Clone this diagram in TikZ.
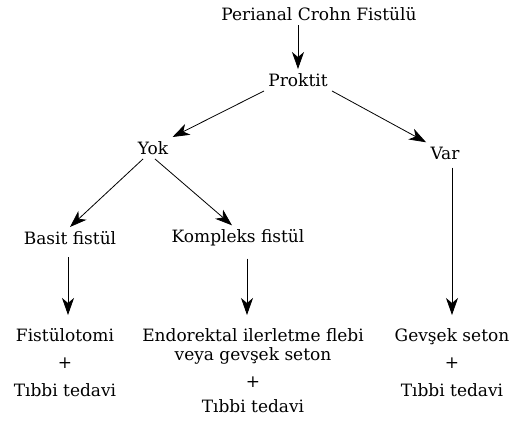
\documentclass[tikz,border=0pt]{standalone}
\usepackage{fontspec}
\setmainfont{DejaVu Serif}
\usetikzlibrary{arrows.meta}

\begin{document}
\begin{tikzpicture}[x=1pt,y=-1pt,
  every node/.style={inner sep=4pt,font=\fontsize{17}{27.5}\selectfont},
  result/.style={anchor=north,inner sep=0pt,align=center},
  every path/.style={line width=0.8pt},
  >={Stealth[length=17pt,width=12pt,inset=5pt]}]
\useasboundingbox (0,0) rectangle (522,423);
\node (title) at (319,14) {Perianal Crohn Fistülü};
\node (proktit) at (298,80) {Proktit};
\node (yok) at (153,148) {Yok};
\node (var) at (445,153) {Var};
\node (basit) at (70,238) {Basit fistül};
\node (kompleks) at (238,238) {Kompleks fistül};
\node[result] (tedaviA) at (65,328) {Fistülotomi\\+\\Tıbbi tedavi};
\node[result] (tedaviB) at (253,328) {Endorektal ilerletme flebi\\[-8.5pt]veya gevşek seton\\+\\[-2.5pt]Tıbbi tedavi};
\node[result] (tedaviC) at (452,328) {Gevşek seton\\+\\Tıbbi tedavi};
\draw [->] (title.south -| proktit.north) -- (proktit.north);
\draw [->] (proktit.south west) -- (yok.north east);
\draw [->] (proktit.south east) -- (var.north west);
\draw [->] ([xshift=-10pt]yok.south) -- (basit.north);
\draw [->] ([xshift=2pt]yok.south) -- ([xshift=-6pt]kompleks.north);
\draw [->,shorten <=8pt,shorten >=13pt] ([xshift=-2pt]basit.south) -- ([xshift=3pt]tedaviA.north);
\draw [->,shorten <=8pt,shorten >=13pt] ([xshift=9pt]kompleks.south) -- ([xshift=-6pt]tedaviB.north);
\draw [->,shorten <=4pt,shorten >=13pt] (var.south -| tedaviC.north) -- (tedaviC.north);
\end{tikzpicture}
\end{document}
